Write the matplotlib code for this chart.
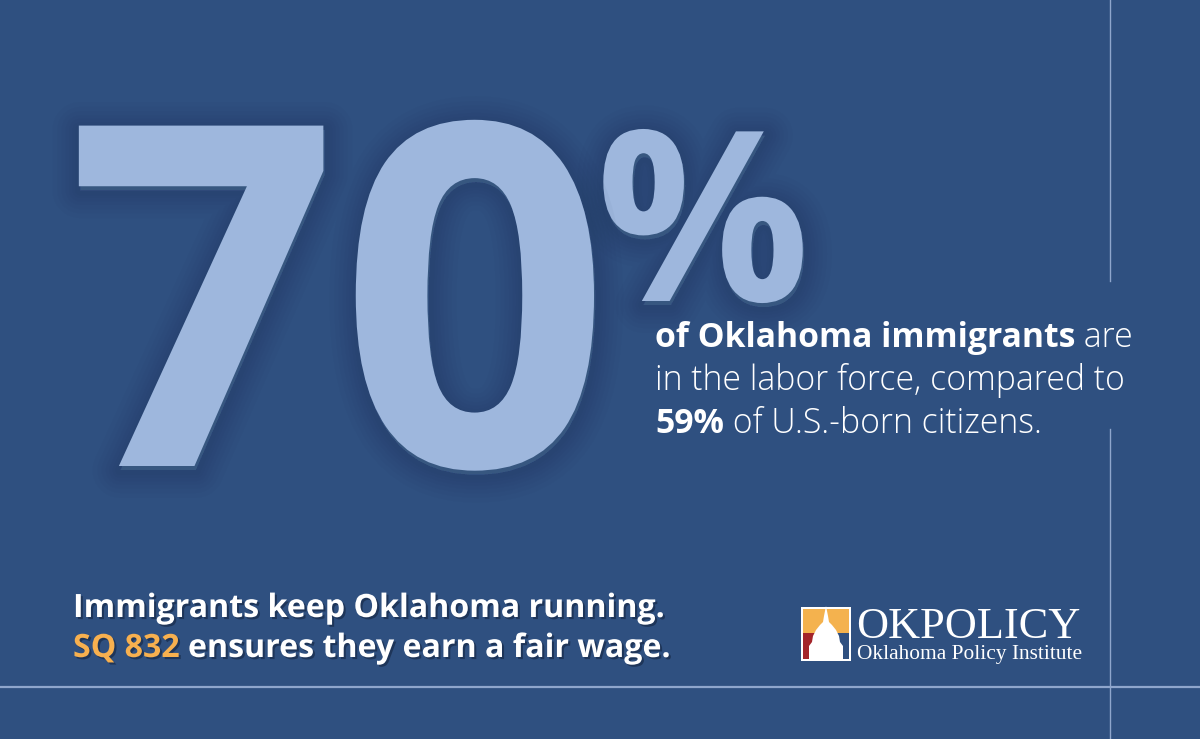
import matplotlib
matplotlib.use("Agg")
import matplotlib.pyplot as plt
import matplotlib.patheffects as pe
from matplotlib.patches import Rectangle, Polygon

# Figures shown on the card
headline_value = 70
comparison_value = 59
sq_number = 832

# Text pieces: (text, bold)
stat_lines = [
    [("of Oklahoma immigrants", True), (" are", False)],
    [("in the labor force, compared to", False)],
    [(f"{comparison_value}%", True), (" of U.S.-born citizens.", False)],
]
tagline_lines = [
    [("Immigrants keep Oklahoma running.", "white")],
    [(f"SQ {sq_number}", "#F7B04F"), (" ensures they earn a fair wage.", "white")],
]
logo_name = "OKPOLICY"
logo_sub = "Oklahoma Policy Institute"

BG = "#2F5080"
BIG = "#9EB7DD"
LINE = "#8FA6CC"

fig = plt.figure(figsize=(12, 7.39), dpi=100, facecolor=BG)
ax = fig.add_axes([0, 0, 1, 1])
ax.set_xlim(0, 1200)
ax.set_ylim(739, 0)
ax.axis("off")
ax.set_facecolor(BG)
renderer = fig.canvas.get_renderer()


def width_of(t):
    return t.get_window_extent(renderer).width


def fit(t, w):
    t.set_fontsize(t.get_fontsize() * w / width_of(t))


# frame lines
ax.plot([1110, 1110], [0, 281], color=LINE, lw=1.0)
ax.plot([1110, 1110], [429, 739], color=LINE, lw=1.0)
ax.plot([0, 1200], [687, 687], color=LINE, lw=1.6)

# soft shadow for the big number
glow = [pe.Stroke(linewidth=lw, foreground="#13284a", alpha=0.03, offset=(1, -3))
        for lw in (40, 33, 27, 21, 16, 11, 7)] + [pe.Normal()]

pct = ax.text(596, 301, "%", fontfamily="Open Sans", fontweight="bold",
              color=BIG, fontsize=150, ha="left", va="baseline", zorder=2)
fit(pct, 214)
pct.set_path_effects(glow)

big = ax.text(66, 466, str(headline_value), fontfamily="Open Sans", fontweight="bold",
              color=BIG, fontsize=300, ha="left", va="baseline", zorder=3)
fit(big, 545)
big.set_path_effects(glow)

# statistic description: size chosen so that the first line spans 478 px
probe_w = 0
for s, bold in stat_lines[0]:
    p = ax.text(0, 0, s, fontfamily="Open Sans", fontweight="bold" if bold else "light",
                fontsize=22)
    probe_w += width_of(p)
    p.remove()
body_size = 22 * 478 / probe_w

for i, line in enumerate(stat_lines):
    x = 655
    y = 347 + i * 43
    for s, bold in line:
        t = ax.text(x, y, s, fontfamily="Open Sans", fontweight="bold" if bold else "light",
                    color="white", fontsize=body_size, ha="left", va="baseline")
        x += width_of(t)

# tagline
shadow = [pe.withSimplePatchShadow(offset=(1.5, -1.5), shadow_rgbFace="#13243f", alpha=0.6)]
probe = ax.text(0, 0, tagline_lines[0][0][0], fontfamily="Open Sans", fontweight="bold",
                fontsize=22)
fit(probe, 590)
tag_size = probe.get_fontsize()
probe.remove()

for i, line in enumerate(tagline_lines):
    x = 73
    y = 617 + i * 40
    for s, c in line:
        t = ax.text(x, y, s, fontfamily="Open Sans", fontweight="bold", color=c,
                    fontsize=tag_size, ha="left", va="baseline", path_effects=shadow)
        x += width_of(t)

# logo mark
ax.add_patch(Rectangle((801, 607), 50, 54, facecolor="white", edgecolor="none"))
ax.add_patch(Rectangle((803, 609), 46, 50, facecolor=BG, edgecolor="none"))
ax.add_patch(Rectangle((803, 609), 46, 24, facecolor="#F4B24E", edgecolor="none"))
ax.add_patch(Rectangle((803, 633), 13, 26, facecolor="#A3242A", edgecolor="none"))
dome = [(809, 659), (809, 646), (812, 642), (813, 636), (816, 630), (820, 625),
        (823, 622), (824, 616), (825, 611), (826, 606), (827, 611), (828, 616),
        (829, 622), (832, 625), (836, 630), (839, 636), (840, 642), (843, 646),
        (843, 659)]
ax.add_patch(Polygon(dome, closed=True, facecolor="white", edgecolor="none"))

name = ax.text(856, 638, logo_name, fontfamily="Liberation Serif", color="white",
               fontsize=28, ha="left", va="baseline")
fit(name, 224)
sub = ax.text(857, 659, logo_sub, fontfamily="Liberation Serif", color="white",
              fontsize=14, ha="left", va="baseline")
fit(sub, 226)

fig.savefig("out.png", dpi=100, facecolor=BG)
